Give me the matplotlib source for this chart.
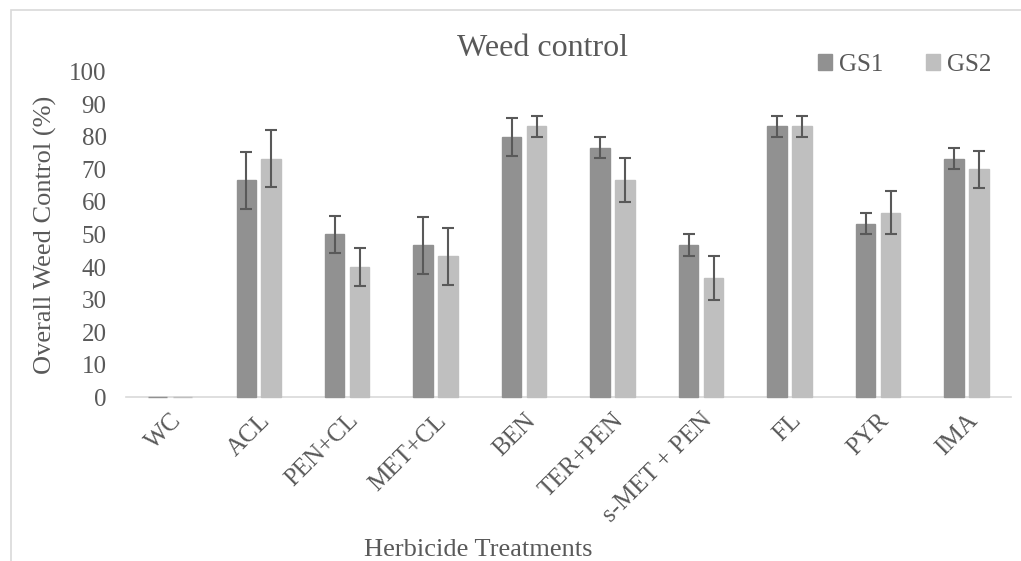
import matplotlib
matplotlib.use("Agg")
import matplotlib.pyplot as plt
from matplotlib.patches import Rectangle
import numpy as np

treatments = ["WC", "ACL", "PEN+CL", "MET+CL", "BEN", "TER+PEN",
              "s-MET + PEN", "FL", "PYR", "IMA"]
gs1 = [0, 66.7, 50.0, 46.7, 80.0, 76.7, 46.7, 83.3, 53.3, 73.3]
gs2 = [0, 73.3, 40.0, 43.3, 83.3, 66.7, 36.7, 83.3, 56.7, 70.0]
gs1_err = [0, 8.8, 5.8, 8.8, 5.8, 3.3, 3.3, 3.3, 3.3, 3.3]
gs2_err = [0, 8.8, 5.8, 8.8, 3.3, 6.7, 6.7, 3.3, 6.7, 5.8]

plt.rcParams['font.family'] = ['Liberation Serif', 'DejaVu Serif']
txt = "#595959"

fig = plt.figure(figsize=(10.21, 5.61), dpi=100)
ax = fig.add_axes([0.1234, 0.2923, 0.8666, 0.5794])

x = np.arange(len(treatments))
w = 0.22
off = 0.141
ax.bar(x - off, gs1, w, color="#919191", edgecolor="#919191", linewidth=1.0,
       label="GS1", zorder=3, clip_on=False)
ax.bar(x + off, gs2, w, color="#bfbfbf", edgecolor="#bfbfbf", linewidth=1.0,
       label="GS2", zorder=3, clip_on=False)

# error bars only where there is a value
m1 = np.array(gs1) > 0
m2 = np.array(gs2) > 0
ax.errorbar((x - off)[m1], np.array(gs1)[m1], yerr=np.array(gs1_err)[m1], fmt="none",
            ecolor="#595959", elinewidth=1.5, capsize=4.5, capthick=1.5, zorder=4)
ax.errorbar((x + off)[m2], np.array(gs2)[m2], yerr=np.array(gs2_err)[m2], fmt="none",
            ecolor="#595959", elinewidth=1.5, capsize=4.5, capthick=1.5, zorder=4)

ax.set_xlim(-0.5, len(treatments) - 0.5)
ax.set_ylim(0, 100)
ax.set_yticks(range(0, 101, 10))
ax.set_xticks(x)
ax.set_xticklabels(treatments, rotation=45, ha="right", va="top", rotation_mode="anchor")
ax.tick_params(axis="both", length=0, labelsize=18, colors=txt)
ax.tick_params(axis="y", pad=14)
ax.tick_params(axis="x", pad=9)
for s in ["top", "right", "left"]:
    ax.spines[s].set_visible(False)
ax.spines["bottom"].set_color("#d9d9d9")
ax.spines["bottom"].set_linewidth(1.2)
ax.spines["bottom"].set_zorder(2)

ax.set_ylabel("Overall Weed Control (%)", fontsize=19, color=txt, labelpad=9)
fig.text(0.468, 0.0, "Herbicide Treatments", fontsize=19, color=txt, ha="center", va="bottom")
fig.text(0.531, 0.887, "Weed control", fontsize=23, color=txt, ha="center", va="bottom")

ax.legend(loc="upper right", bbox_to_anchor=(1.004, 1.125), ncol=2, frameon=False,
          fontsize=18, labelcolor=txt, handlelength=0.55, handleheight=0.55,
          handletextpad=0.3, columnspacing=1.7)

fig.patches.append(Rectangle((11 / 1021, -0.1), 1.2, 1 - 10 / 561 + 0.1,
                             transform=fig.transFigure, fill=False,
                             edgecolor="#d9d9d9", linewidth=1.2))

fig.savefig("out.png", dpi=100)
